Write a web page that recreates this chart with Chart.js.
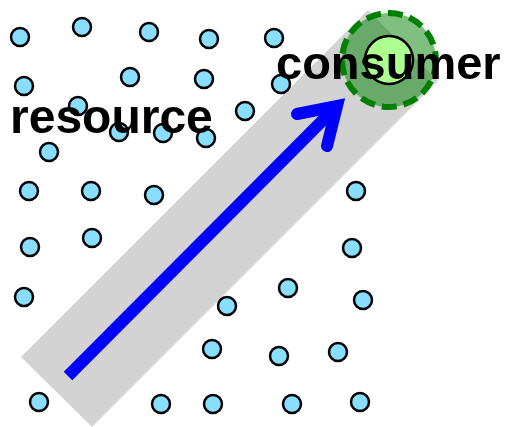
<!DOCTYPE html>
<html>
<head>
<meta charset="utf-8">
<script src="https://cdn.jsdelivr.net/npm/chart.js@4.4.1/dist/chart.umd.min.js"></script>
<style>
  html, body { margin: 0; padding: 0; background: #fff; }
  #wrap { width: 505px; height: 427px; }
</style>
</head>
<body>
<div id="wrap"><canvas id="chart" width="505" height="427"></canvas></div>
<script>
// resource points (x / y in picture units, y grows downwards)
const resourceX = [20, 82, 149, 209, 274, 24, 130, 204, 281, 78, 245, 119, 163, 206, 49, 29, 91, 154, 356, 30, 92, 352, 24, 288, 227, 363, 212, 279, 338, 39, 161, 213, 292, 360];
const resourceY = [37, 27, 32, 39, 38, 86, 77, 79, 84, 106, 111, 132, 133, 138, 152, 191, 191, 195, 191, 247, 238, 248, 297, 288, 306, 300, 349, 356, 352, 402, 404, 404, 404, 402];

// grey corridor corners
const bandX = [21, 92, 438, 368];
const bandY = [357, 427, 81, 10];

// arrow shaft and head
const shaftX = [68, 337];
const shaftY = [376, 106];
const headX = [297, 337, 327];
const headY = [114, 106, 146];

// consumer: centre and radii (outer dashed ring, inner dot)
const consumerX = [389];
const consumerY = [60];
const consumerR = [47, 24];

// text labels
const labelText = ['resource', 'consumer'];
const labelX = [10, 276];
const labelY = [133, 79];
const labelSize = [48, 47];

const px = (s, v) => s.getPixelForValue(v);

// everything that sits under the resource dots
const underlay = {
  id: 'underlay',
  beforeDatasetsDraw(chart) {
    const { ctx, scales: { x, y } } = chart;
    ctx.save();

    // corridor
    ctx.fillStyle = '#d3d3d3';
    ctx.beginPath();
    bandX.forEach((v, i) => {
      if (i === 0) ctx.moveTo(px(x, v), px(y, bandY[i]));
      else ctx.lineTo(px(x, v), px(y, bandY[i]));
    });
    ctx.closePath();
    ctx.fill();

    // consumer ring
    const cx = px(x, consumerX[0]), cy = px(y, consumerY[0]);
    const r0 = px(x, consumerX[0] + consumerR[0]) - cx;
    const r1 = px(x, consumerX[0] + consumerR[1]) - cx;
    ctx.beginPath();
    ctx.arc(cx, cy, r0, 0, Math.PI * 2);
    ctx.fillStyle = 'rgba(0,128,0,0.5)';
    ctx.fill();
    ctx.setLineDash([15, 7]);
    ctx.lineWidth = 6;
    ctx.strokeStyle = '#008000';
    ctx.stroke();
    ctx.setLineDash([]);

    ctx.beginPath();
    ctx.arc(cx, cy, r1, 0, Math.PI * 2);
    ctx.fillStyle = '#adff8f';
    ctx.fill();
    ctx.lineWidth = 2.5;
    ctx.strokeStyle = '#000';
    ctx.stroke();

    // arrow
    ctx.strokeStyle = '#0000ff';
    ctx.lineWidth = 12;
    ctx.lineCap = 'butt';
    ctx.beginPath();
    ctx.moveTo(px(x, shaftX[0]), px(y, shaftY[0]));
    ctx.lineTo(px(x, shaftX[1]), px(y, shaftY[1]));
    ctx.stroke();

    ctx.lineCap = 'round';
    ctx.lineJoin = 'miter';
    ctx.miterLimit = 10;
    ctx.beginPath();
    headX.forEach((v, i) => {
      if (i === 0) ctx.moveTo(px(x, v), px(y, headY[i]));
      else ctx.lineTo(px(x, v), px(y, headY[i]));
    });
    ctx.stroke();

    ctx.restore();
  },
  afterDatasetsDraw(chart) {
    const { ctx, scales: { x, y } } = chart;
    ctx.save();
    ctx.fillStyle = '#000';
    ctx.textAlign = 'left';
    ctx.textBaseline = 'alphabetic';
    labelText.forEach((t, i) => {
      ctx.font = 'bold ' + labelSize[i] + 'px "Liberation Sans", Arial, sans-serif';
      ctx.fillText(t, px(x, labelX[i]), px(y, labelY[i]));
    });
    ctx.restore();
  }
};

new Chart(document.getElementById('chart'), {
  type: 'scatter',
  data: {
    datasets: [{
      label: 'resource',
      data: resourceX.map((v, i) => ({ x: v, y: resourceY[i] })),
      backgroundColor: '#89ddff',
      borderColor: '#000',
      borderWidth: 2.5,
      pointRadius: 9,
      pointHoverRadius: 9,
      clip: false
    }]
  },
  options: {
    responsive: false,
    animation: false,
    events: [],
    layout: { padding: 0, autoPadding: false },
    scales: {
      x: { type: 'linear', display: false, min: 0, max: 505 },
      y: { type: 'linear', display: false, min: 0, max: 427, reverse: true }
    },
    plugins: {
      legend: { display: false },
      tooltip: { enabled: false }
    }
  },
  plugins: [underlay]
});
</script>
</body>
</html>
